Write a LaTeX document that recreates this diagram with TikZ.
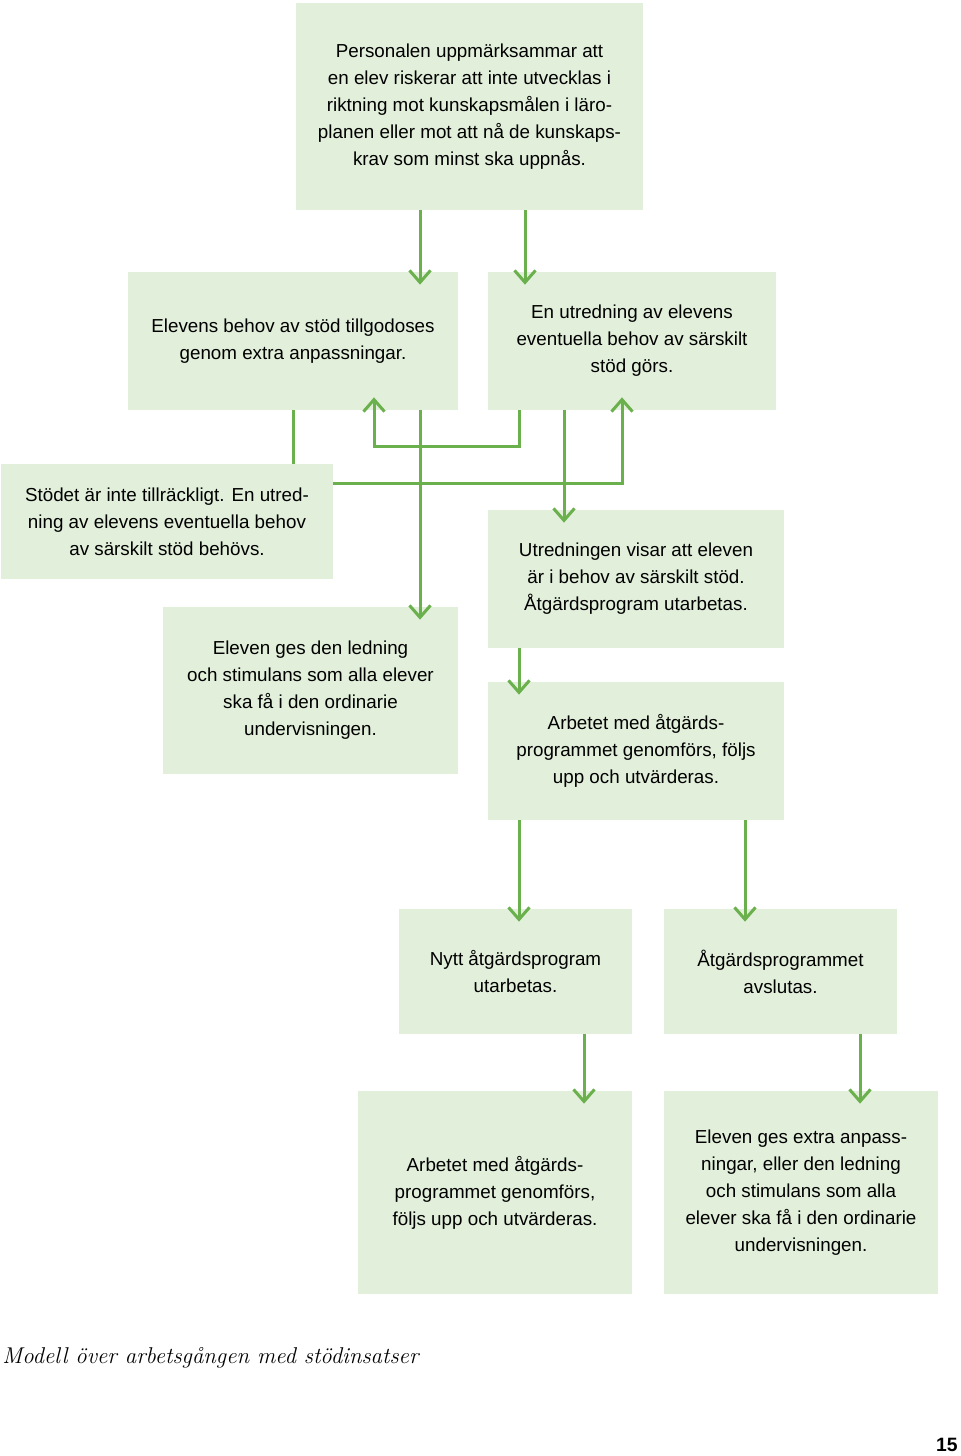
\documentclass[tikz,border=0pt]{standalone}
\usepackage{fontspec}
\setsansfont{Liberation Sans}
\usetikzlibrary{arrows.meta}
\definecolor{boxgreen}{RGB}{226,239,218}
\definecolor{linegreen}{RGB}{106,176,76}
\tikzstyle{stepbox} = [rectangle, inner sep=0pt, align=center, fill=boxgreen, font=\sffamily\fontsize{10.7}{15.4}\selectfont]
\tikzstyle{arrow} = [draw=linegreen, line width=0.06cm, -{Straight Barb[length=0.24cm, width=0.42cm]}, shorten >=-0.26cm]
\tikzstyle{link} = [draw=linegreen, line width=0.06cm]

\begin{document}
\begin{tikzpicture}[x=0.02cm, y=-0.02cm]
	\useasboundingbox (0,0) rectangle (960,1456);
	% columns and rows for the connectors
	\coordinate (c293) at (293,0);
	\coordinate (c374) at (374,0);
	\coordinate (c420) at (420,0);
	\coordinate (c519) at (519,0);
	\coordinate (c525) at (525,0);
	\coordinate (c564) at (564,0);
	\coordinate (c584) at (584,0);
	\coordinate (c622) at (622,0);
	\coordinate (c745) at (745,0);
	\coordinate (c860) at (860,0);
	\coordinate (r446) at (0,446);
	\coordinate (r483) at (0,483);

	\node (signal) [stepbox, minimum width=6.94cm, minimum height=4.14cm] at (469.5,106.5) {Personalen uppmärksammar att\\en elev riskerar att inte utvecklas i\\riktning mot kunskapsmålen i läro-\\planen eller mot att nå de kunskaps-\\krav som minst ska uppnås.};

	\node (anpass) [stepbox, minimum width=6.6cm, minimum height=2.76cm] at (293,341) {Elevens behov av stöd tillgodoses\\genom extra anpassningar.};
		\draw [arrow] (signal.south -| c420) -- (anpass.north -| c420);
	\node (utred) [stepbox, minimum width=5.76cm, minimum height=2.76cm] at (632,341) {En utredning av elevens\\eventuella behov av särskilt\\stöd görs.};
		\draw [arrow] (signal.south -| c525) -- (utred.north -| c525);

	\node (stodet) [stepbox, minimum width=6.64cm, minimum height=2.3cm] at (167,521.5) {Stödet är inte tillräckligt. En utred-\\ning av elevens eventuella behov\\av särskilt stöd behövs.};
		\draw [link] (anpass.south) -- (anpass.south |- stodet.north);
		\draw [arrow] (utred.south -| c519) -- (c519 |- r446) -- (c374 |- r446) -- (anpass.south -| c374);
		\draw [arrow] (stodet.east |- r483) -- (c622 |- r483) -- (utred.south -| c622);

	\node (ledning) [stepbox, minimum width=5.9cm, minimum height=3.34cm] at (310.5,690.5) {Eleven ges den ledning\\och stimulans som alla elever\\ska få i den ordinarie\\undervisningen.};
		\draw [arrow] (anpass.south -| c420) -- (ledning.north -| c420);

	\node (visar) [stepbox, minimum width=5.92cm, minimum height=2.76cm] at (636,579) {Utredningen visar att eleven\\är i behov av särskilt stöd.\\Åtgärdsprogram utarbetas.};
		\draw [arrow] (utred.south -| c564) -- (visar.north -| c564);

	\node (arbete) [stepbox, minimum width=5.92cm, minimum height=2.76cm] at (636,751) {Arbetet med åtgärds-\\programmet genomförs, följs\\upp och utvärderas.};
		\draw [arrow] (visar.south -| c519) -- (arbete.north -| c519);

	\node (nytt) [stepbox, minimum width=4.66cm, minimum height=2.5cm] at (515.5,971.5) {Nytt åtgärdsprogram\\utarbetas.};
		\draw [arrow] (arbete.south -| c519) -- (nytt.north -| c519);
	\node (avslut) [stepbox, minimum width=4.66cm, minimum height=2.5cm] at (780.5,971.5) {Åtgärdsprogrammet\\avslutas.};
		\draw [arrow] (arbete.south -| c745) -- (avslut.north -| c745);

	\node (arbete2) [stepbox, minimum width=5.48cm, minimum height=4.06cm] at (495,1192.5) {Arbetet med åtgärds-\\programmet genomförs,\\följs upp och utvärderas.};
		\draw [arrow] (nytt.south -| c584) -- (arbete2.north -| c584);
	\node (extra) [stepbox, minimum width=5.48cm, minimum height=4.06cm] at (801,1192.5) {Eleven ges extra anpass-\\ningar, eller den ledning\\och stimulans som alla\\elever ska få i den ordinarie\\undervisningen.};
		\draw [arrow] (avslut.south -| c860) -- (extra.north -| c860);

	\node (caption) [anchor=base west, inner sep=0pt, font=\itshape\fontsize{13}{15}\selectfont] at (2,1363) {Modell över arbetsgången med stödinsatser};
	\node (pagenum) [anchor=base east, inner sep=0pt, font=\sffamily\bfseries\fontsize{11}{13}\selectfont] at (958,1451) {15};
\end{tikzpicture}
\end{document}
